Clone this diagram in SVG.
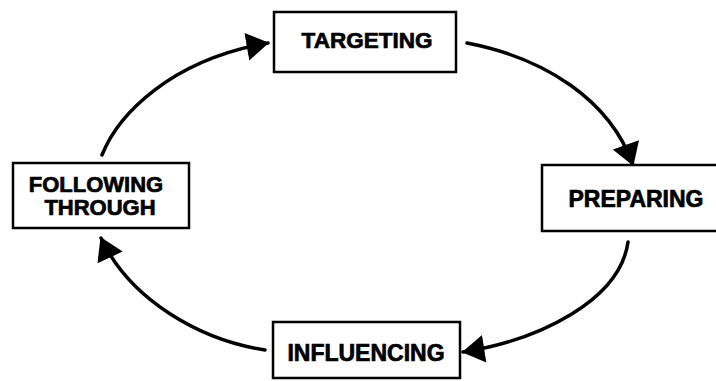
<svg xmlns="http://www.w3.org/2000/svg" width="716" height="381" viewBox="0 0 716 381">
  <style>
    .box { fill: #fff; stroke: #000; stroke-width: 2.5; }
    .label { font-family: "Liberation Sans", Arial, sans-serif; font-weight: bold; font-size: 22.5px; fill: #000; stroke: #000; stroke-width: 0.7; text-anchor: middle; }
    .arc { fill: none; stroke: #000; stroke-width: 3.5; stroke-linecap: round; }
  </style>
  <defs>
    <marker id="head" markerUnits="userSpaceOnUse" markerWidth="24" markerHeight="30" viewBox="0 -14 22 28" refX="20" refY="0" orient="auto">
      <path d="M0,-13 L21,0 L0,13 Z" fill="#000"/>
    </marker>
  </defs>
  <rect width="716" height="381" fill="#fff"/>

  <g id="connectors">
    <path class="arc" d="M102,155 C118,115 170,60 268,43" marker-end="url(#head)"/>
    <path class="arc" d="M467,43 C545,58 610,100 633,165" marker-end="url(#head)"/>
    <path class="arc" d="M628,242 C620,300 540,340 463,352" marker-end="url(#head)"/>
    <path class="arc" d="M265,350 C200,340 130,300 101,238" marker-end="url(#head)"/>
  </g>

  <g id="targeting">
    <rect class="box" x="274" y="12" width="182" height="60"/>
    <text class="label" x="367" y="48">TARGETING</text>
  </g>

  <g id="preparing">
    <rect class="box" x="542" y="165" width="184" height="66"/>
    <text class="label" x="636" y="207" style="font-size:23px">PREPARING</text>
  </g>

  <g id="influencing">
    <rect class="box" x="273" y="322" width="187" height="56"/>
    <text class="label" x="366" y="361" style="font-size:23px">INFLUENCING</text>
  </g>

  <g id="following-through">
    <rect class="box" x="13" y="163" width="176" height="65"/>
    <text class="label" x="96" y="192" style="font-size:22px">FOLLOWING</text>
    <text class="label" x="100" y="215" style="font-size:22px">THROUGH</text>
  </g>
</svg>
